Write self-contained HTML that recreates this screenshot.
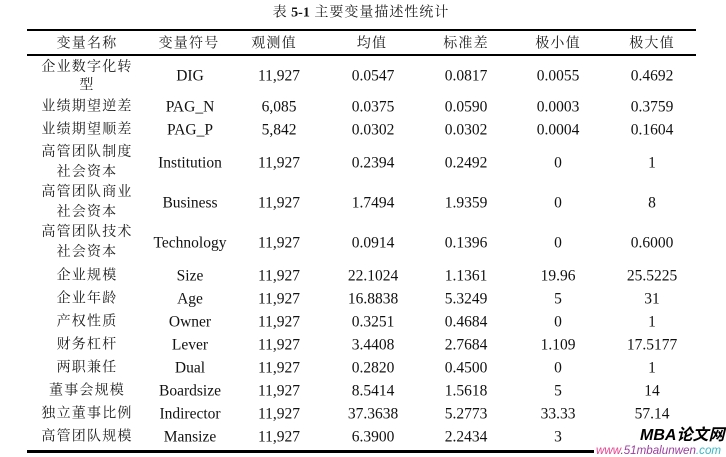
<!DOCTYPE html>
<html>
<head>
<meta charset="utf-8">
<style>
html,body{margin:0;padding:0;background:#fff;}
body{width:726px;height:457px;position:relative;overflow:hidden;}
.t{position:absolute;transform:translate(-50%,-50%);white-space:nowrap;color:#111;
   font-family:"Liberation Serif","Noto Serif CJK SC",serif;font-size:15.5px;line-height:19px;text-align:center;}
.c{font-family:"Liberation Serif","Noto Serif CJK SC",serif;font-size:14px;letter-spacing:1.2px;color:#1a1a1a;}
.line{position:absolute;background:#000;}
</style>
</head>
<body>
<div class="t" style="left:361px;top:13px;font-size:14px;"><span class="c" style="letter-spacing:0.5px">表 </span><b>5-1</b><span class="c" style="letter-spacing:1px"> 主要变量描述性统计</span></div>

<div class="line" style="left:27px;top:29px;width:669px;height:2px;"></div>
<div class="line" style="left:27px;top:54px;width:669px;height:2px;"></div>
<div class="line" style="left:27px;top:450px;width:567px;height:3px;"></div>

<!-- header -->
<div class="t c" style="left:87px;top:44px;">变量名称</div>
<div class="t c" style="left:189px;top:44px;">变量符号</div>
<div class="t c" style="left:274px;top:44px;">观测值</div>
<div class="t c" style="left:372px;top:44px;">均值</div>
<div class="t c" style="left:466px;top:44px;">标准差</div>
<div class="t c" style="left:558px;top:44px;">极小值</div>
<div class="t c" style="left:652px;top:44px;">极大值</div>

<!-- row DIG -->
<div class="t c" style="left:87px;top:77px;line-height:18px;">企业数字化转<br>型</div>
<div class="t" style="left:190px;top:76px;">DIG</div>
<div class="t" style="left:279px;top:76px;">11,927</div>
<div class="t" style="left:373px;top:76px;">0.0547</div>
<div class="t" style="left:466px;top:76px;">0.0817</div>
<div class="t" style="left:558px;top:76px;">0.0055</div>
<div class="t" style="left:652px;top:76px;">0.4692</div>

<div class="t c" style="left:87px;top:107px;">业绩期望逆差</div>
<div class="t" style="left:190px;top:107px;">PAG_N</div>
<div class="t" style="left:279px;top:107px;">6,085</div>
<div class="t" style="left:373px;top:107px;">0.0375</div>
<div class="t" style="left:466px;top:107px;">0.0590</div>
<div class="t" style="left:558px;top:107px;">0.0003</div>
<div class="t" style="left:652px;top:107px;">0.3759</div>

<div class="t c" style="left:87px;top:130px;">业绩期望顺差</div>
<div class="t" style="left:190px;top:130px;">PAG_P</div>
<div class="t" style="left:279px;top:130px;">5,842</div>
<div class="t" style="left:373px;top:130px;">0.0302</div>
<div class="t" style="left:466px;top:130px;">0.0302</div>
<div class="t" style="left:558px;top:130px;">0.0004</div>
<div class="t" style="left:652px;top:130px;">0.1604</div>

<div class="t c" style="left:87px;top:163px;line-height:20px;">高管团队制度<br>社会资本</div>
<div class="t" style="left:190px;top:163px;">Institution</div>
<div class="t" style="left:279px;top:163px;">11,927</div>
<div class="t" style="left:373px;top:163px;">0.2394</div>
<div class="t" style="left:466px;top:163px;">0.2492</div>
<div class="t" style="left:558px;top:163px;">0</div>
<div class="t" style="left:652px;top:163px;">1</div>

<div class="t c" style="left:87px;top:203px;line-height:20px;">高管团队商业<br>社会资本</div>
<div class="t" style="left:190px;top:203px;">Business</div>
<div class="t" style="left:279px;top:203px;">11,927</div>
<div class="t" style="left:373px;top:203px;">1.7494</div>
<div class="t" style="left:466px;top:203px;">1.9359</div>
<div class="t" style="left:558px;top:203px;">0</div>
<div class="t" style="left:652px;top:203px;">8</div>

<div class="t c" style="left:87px;top:243px;line-height:20px;">高管团队技术<br>社会资本</div>
<div class="t" style="left:190px;top:243px;">Technology</div>
<div class="t" style="left:279px;top:243px;">11,927</div>
<div class="t" style="left:373px;top:243px;">0.0914</div>
<div class="t" style="left:466px;top:243px;">0.1396</div>
<div class="t" style="left:558px;top:243px;">0</div>
<div class="t" style="left:652px;top:243px;">0.6000</div>

<div class="t c" style="left:87px;top:276px;">企业规模</div>
<div class="t" style="left:190px;top:276px;">Size</div>
<div class="t" style="left:279px;top:276px;">11,927</div>
<div class="t" style="left:373px;top:276px;">22.1024</div>
<div class="t" style="left:466px;top:276px;">1.1361</div>
<div class="t" style="left:558px;top:276px;">19.96</div>
<div class="t" style="left:652px;top:276px;">25.5225</div>

<div class="t c" style="left:87px;top:299px;">企业年龄</div>
<div class="t" style="left:190px;top:299px;">Age</div>
<div class="t" style="left:279px;top:299px;">11,927</div>
<div class="t" style="left:373px;top:299px;">16.8838</div>
<div class="t" style="left:466px;top:299px;">5.3249</div>
<div class="t" style="left:558px;top:299px;">5</div>
<div class="t" style="left:652px;top:299px;">31</div>

<div class="t c" style="left:87px;top:322px;">产权性质</div>
<div class="t" style="left:190px;top:322px;">Owner</div>
<div class="t" style="left:279px;top:322px;">11,927</div>
<div class="t" style="left:373px;top:322px;">0.3251</div>
<div class="t" style="left:466px;top:322px;">0.4684</div>
<div class="t" style="left:558px;top:322px;">0</div>
<div class="t" style="left:652px;top:322px;">1</div>

<div class="t c" style="left:87px;top:345px;">财务杠杆</div>
<div class="t" style="left:190px;top:345px;">Lever</div>
<div class="t" style="left:279px;top:345px;">11,927</div>
<div class="t" style="left:373px;top:345px;">3.4408</div>
<div class="t" style="left:466px;top:345px;">2.7684</div>
<div class="t" style="left:558px;top:345px;">1.109</div>
<div class="t" style="left:652px;top:345px;">17.5177</div>

<div class="t c" style="left:87px;top:368px;">两职兼任</div>
<div class="t" style="left:190px;top:368px;">Dual</div>
<div class="t" style="left:279px;top:368px;">11,927</div>
<div class="t" style="left:373px;top:368px;">0.2820</div>
<div class="t" style="left:466px;top:368px;">0.4500</div>
<div class="t" style="left:558px;top:368px;">0</div>
<div class="t" style="left:652px;top:368px;">1</div>

<div class="t c" style="left:87px;top:391px;">董事会规模</div>
<div class="t" style="left:190px;top:391px;">Boardsize</div>
<div class="t" style="left:279px;top:391px;">11,927</div>
<div class="t" style="left:373px;top:391px;">8.5414</div>
<div class="t" style="left:466px;top:391px;">1.5618</div>
<div class="t" style="left:558px;top:391px;">5</div>
<div class="t" style="left:652px;top:391px;">14</div>

<div class="t c" style="left:87px;top:414px;">独立董事比例</div>
<div class="t" style="left:190px;top:414px;">Indirector</div>
<div class="t" style="left:279px;top:414px;">11,927</div>
<div class="t" style="left:373px;top:414px;">37.3638</div>
<div class="t" style="left:466px;top:414px;">5.2773</div>
<div class="t" style="left:558px;top:414px;">33.33</div>
<div class="t" style="left:652px;top:414px;">57.14</div>

<div class="t c" style="left:87px;top:437px;">高管团队规模</div>
<div class="t" style="left:190px;top:437px;">Mansize</div>
<div class="t" style="left:279px;top:437px;">11,927</div>
<div class="t" style="left:373px;top:437px;">6.3900</div>
<div class="t" style="left:466px;top:437px;">2.2434</div>
<div class="t" style="left:558px;top:437px;">3</div>

<!-- watermark -->
<div style="position:absolute;left:640px;top:427px;font-family:'Liberation Sans','Noto Sans CJK SC',sans-serif;font-weight:bold;font-style:italic;font-size:16px;line-height:18px;color:#000;white-space:nowrap;">MBA论文网</div>
<div style="position:absolute;left:596px;top:444px;font-family:'Liberation Sans',sans-serif;font-style:italic;font-size:11.6px;line-height:13px;white-space:nowrap;"><span style="color:#e8438f">www</span><span style="color:#555">.</span><span style="color:#9a3f9e">51mbalunwen</span><span style="color:#3bb7c6">.com</span></div>
</body>
</html>
